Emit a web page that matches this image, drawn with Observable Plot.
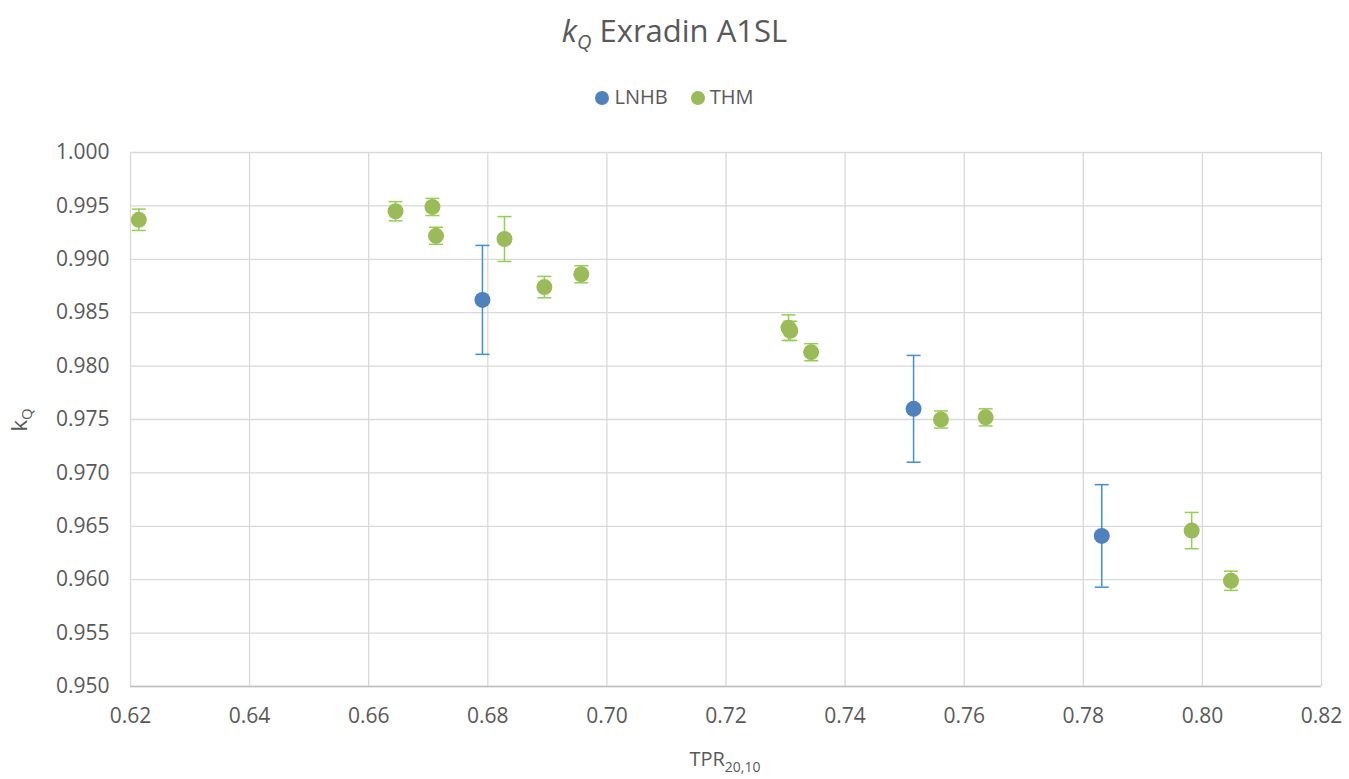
<!DOCTYPE html>
<html>
<head>
<meta charset="utf-8">
<script src="https://cdn.jsdelivr.net/npm/d3@7"></script>
<script src="https://cdn.jsdelivr.net/npm/@observablehq/plot@0.6"></script>
<style>
  body { margin: 0; background: #fff; font-family: "Open Sans", sans-serif; color: #595959; }
  #header { position: relative; width: 1349px; height: 130px; }
  #title { position: absolute; top: 9px; left: 0; width: 1349px; text-align: center; font-size: 31px; color: #595959; }
  #title i sub { font-size: 20px; }
  #legend { position: absolute; top: 83px; left: 0; width: 1349px; text-align: center; font-size: 20px; color: #595959; }
  .sw { display: inline-block; width: 14px; height: 14px; border-radius: 50%; margin-right: 5px; vertical-align: -1px; }
  .item { margin: 0 9px; }
</style>
</head>
<body>
<div id="header">
  <div id="title"><i>k<sub>Q</sub></i> Exradin A1SL</div>
  <div id="legend">
    <span class="item"><span class="sw" style="background:#4f81bd"></span>LNHB</span>
    <span class="item"><span class="sw" style="background:#9bbb59"></span>THM</span>
  </div>
</div>
<div id="chart"></div>
<script>
// ---- data ----
const lnhbX   = [0.6791, 0.7515, 0.7831];
const lnhbY   = [0.9862, 0.9760, 0.9641];
const lnhbErr = [0.0051, 0.0050, 0.0048];

const thmX   = [0.6214, 0.6645, 0.6707, 0.6713, 0.6828, 0.6895, 0.6957, 0.7305, 0.7308, 0.7343, 0.7561, 0.7636, 0.7982, 0.8048];
const thmY   = [0.9937, 0.9945, 0.9949, 0.9922, 0.9919, 0.9874, 0.9886, 0.9836, 0.9833, 0.9813, 0.9750, 0.9752, 0.9646, 0.9599];
const thmErr = [0.0010, 0.0009, 0.0008, 0.0008, 0.0021, 0.0010, 0.0008, 0.0012, 0.0009, 0.0008, 0.0008, 0.0008, 0.0017, 0.0009];

const xTicks = [0.62, 0.64, 0.66, 0.68, 0.70, 0.72, 0.74, 0.76, 0.78, 0.80, 0.82];
const yTicks = [0.950, 0.955, 0.960, 0.965, 0.970, 0.975, 0.980, 0.985, 0.990, 0.995, 1.000];

const lnhbColor = "#4f81bd", lnhbBar = "#3d8fd6";
const thmColor = "#9bbb59", thmBar = "#92d050";

const lnhb = lnhbX.map((x, i) => ({x, y: lnhbY[i], lo: lnhbY[i] - lnhbErr[i], hi: lnhbY[i] + lnhbErr[i]}));
const thm = thmX.map((x, i) => ({x, y: thmY[i], lo: thmY[i] - thmErr[i], hi: thmY[i] + thmErr[i]}));

// horizontal line symbol used as error bar cap
const capSymbol = { draw(ctx, size) { const w = Math.sqrt(size / Math.PI); ctx.moveTo(-w, 0); ctx.lineTo(w, 0); } };

function errorMarks(data, barColor) {
  return [
    Plot.ruleX(data, {x: "x", y1: "lo", y2: "hi", stroke: barColor, strokeWidth: 1.5}),
    Plot.dot(data, {x: "x", y: "lo", symbol: capSymbol, r: 7, stroke: barColor, strokeWidth: 1.5, fill: "none"}),
    Plot.dot(data, {x: "x", y: "hi", symbol: capSymbol, r: 7, stroke: barColor, strokeWidth: 1.5, fill: "none"})
  ];
}

const svg = Plot.plot({
  width: 1349,
  height: 649,
  marginTop: 22,
  marginBottom: 93,
  marginLeft: 130,
  marginRight: 28,
  style: { fontFamily: "Open Sans, sans-serif", fontSize: "21px", color: "#595959", background: "#fff" },
  x: { domain: [0.62, 0.82], ticks: xTicks, tickFormat: d3.format(".2f"), tickSize: 0, tickPadding: 22, label: null },
  y: { domain: [0.95, 1.0], ticks: yTicks, tickFormat: d3.format(".3f"), tickSize: 0, tickPadding: 21, label: null },
  marks: [
    Plot.gridX(xTicks, {stroke: "#d9d9d9", strokeOpacity: 1, strokeWidth: 1.3}),
    Plot.gridY(yTicks, {stroke: "#d9d9d9", strokeOpacity: 1, strokeWidth: 1.3}),
    Plot.ruleY([0.95], {stroke: "#bfbfbf", strokeWidth: 1.3}),
    ...errorMarks(lnhb, lnhbBar),
    ...errorMarks(thm, thmBar),
    Plot.dot(lnhb, {x: "x", y: "y", r: 8, fill: lnhbColor}),
    Plot.dot(thm, {x: "x", y: "y", r: 8, fill: thmColor})
  ]
});

const s = d3.select(svg);
// x-axis label TPR20,10
const xl = s.append("text").attr("x", 725).attr("y", 636).attr("text-anchor", "middle")
  .attr("fill", "#595959").style("font-size", "20px");
xl.append("tspan").text("TPR");
xl.append("tspan").attr("dy", 6).style("font-size", "14px").text("20,10");
// y-axis label kQ
const yl = s.append("text").attr("transform", "translate(27,290) rotate(-90)").attr("text-anchor", "middle")
  .attr("fill", "#595959").style("font-size", "22px");
yl.append("tspan").text("k");
yl.append("tspan").attr("dy", 5).style("font-size", "15px").text("Q");

document.getElementById("chart").appendChild(svg);
</script>
</body>
</html>
